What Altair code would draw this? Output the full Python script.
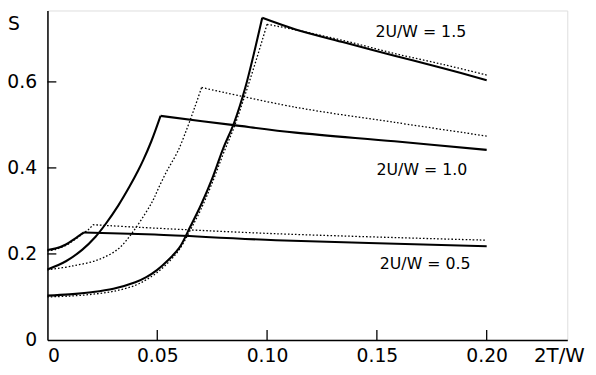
import altair as alt
import pandas as pd

# ---- data ----
u15_solid_x = [0, 0.01, 0.02, 0.03, 0.04, 0.045, 0.05, 0.055, 0.06, 0.065, 0.07, 0.075, 0.08, 0.085, 0.09, 0.0978,
               0.113, 0.1357, 0.158, 0.1806, 0.20]
u15_solid_y = [0.103, 0.106, 0.111, 0.119, 0.134, 0.146, 0.163, 0.186, 0.214, 0.263, 0.315, 0.375, 0.445, 0.505, 0.585, 0.749,
               0.722, 0.691, 0.661, 0.631, 0.604]

u15_dot_x = [0, 0.01, 0.02, 0.03, 0.04, 0.045, 0.05, 0.055, 0.06, 0.065, 0.07, 0.075, 0.08, 0.085, 0.09, 0.095, 0.100,
             0.113, 0.1357, 0.158, 0.1806, 0.20]
u15_dot_y = [0.100, 0.102, 0.106, 0.113, 0.127, 0.140, 0.157, 0.180, 0.210, 0.255, 0.305, 0.365, 0.432, 0.495, 0.570, 0.650, 0.734,
             0.721, 0.695, 0.666, 0.640, 0.616]

u10_solid_x = [0, 0.0084, 0.0159, 0.0219, 0.0264, 0.0323, 0.0373, 0.0413, 0.0436, 0.0473, 0.0515, 0.084, 0.113, 0.158, 0.20]
u10_solid_y = [0.164, 0.183, 0.210, 0.240, 0.269, 0.313, 0.356, 0.394, 0.418, 0.462, 0.521, 0.500, 0.482, 0.462, 0.442]

u10_dot_x = [0, 0.0114, 0.0234, 0.0323, 0.0383, 0.0443, 0.0481, 0.0503, 0.0543, 0.0593, 0.0638, 0.067, 0.0702,
             0.113, 0.158, 0.20]
u10_dot_y = [0.163, 0.172, 0.187, 0.212, 0.247, 0.292, 0.325, 0.350, 0.392, 0.438, 0.495, 0.540, 0.587,
             0.541, 0.506, 0.474]

u05_solid_x = [0, 0.004, 0.0084, 0.0129, 0.0166, 0.0488, 0.104, 0.20]
u05_solid_y = [0.209, 0.213, 0.222, 0.237, 0.250, 0.245, 0.232, 0.218]

u05_dot_x = [0, 0.004, 0.0084, 0.0129, 0.0166, 0.019, 0.0207, 0.0413, 0.104, 0.20]
u05_dot_y = [0.207, 0.211, 0.220, 0.235, 0.249, 0.258, 0.268, 0.262, 0.247, 0.232]

label_text = ["2U/W = 1.5", "2U/W = 1.0", "2U/W = 0.5"]
label_x = [0.170, 0.1705, 0.172]
label_y = [0.717, 0.394, 0.176]

x_ticks = [0, 0.05, 0.10, 0.15, 0.20]
y_ticks = [0, 0.2, 0.4, 0.6]


# ---- tables: each curve split at its peak so the corner stays sharp ----
def series(name, xs, ys):
    k = ys.index(max(ys))
    rise = pd.DataFrame({"x": xs[:k + 1], "y": ys[:k + 1], "part": name + "-rise"})
    fall = pd.DataFrame({"x": xs[k:], "y": ys[k:], "part": name + "-fall"})
    return pd.concat([rise, fall], ignore_index=True)


solid = pd.concat([series("1.5", u15_solid_x, u15_solid_y),
                   series("1.0", u10_solid_x, u10_solid_y),
                   series("0.5", u05_solid_x, u05_solid_y)], ignore_index=True)
dotted = pd.concat([series("1.5", u15_dot_x, u15_dot_y),
                    series("1.0", u10_dot_x, u10_dot_y),
                    series("0.5", u05_dot_x, u05_dot_y)], ignore_index=True)
labels = pd.DataFrame({"x": label_x, "y": label_y, "text": label_text})
xt = pd.DataFrame({"x": x_ticks[1:]})
yt = pd.DataFrame({"y": y_ticks[1:]})

W, H = 527, 334
FONT = "DejaVu Sans"

xs = alt.Scale(domain=[0, 0.2367], nice=False, zero=False)
ys = alt.Scale(domain=[0, 0.766], nice=False, zero=False)

xaxis = alt.Axis(values=x_ticks, title=None, grid=False, ticks=False, domainColor="black", domainWidth=1.5,
                 labelFont=FONT, labelFontSize=19, labelColor="black", labelPadding=7,
                 labelExpr="datum.value == 0 ? '0' : format(datum.value, '.2f')")
yaxis = alt.Axis(values=y_ticks, title=None, grid=False, ticks=False, domainColor="black", domainWidth=1.5,
                 labelFont=FONT, labelFontSize=19, labelColor="black", labelPadding=11,
                 labelExpr="datum.value == 0 ? '0' : format(datum.value, '.1f')")

solid_layer = alt.Chart(solid).mark_line(color="black", strokeWidth=2.1, interpolate="catmull-rom").encode(
    x=alt.X("x:Q", scale=xs, axis=xaxis),
    y=alt.Y("y:Q", scale=ys, axis=yaxis),
    detail="part:N",
)
dotted_layer = alt.Chart(dotted).mark_line(color="black", strokeWidth=1.3, strokeDash=[1.6, 2],
                                           interpolate="catmull-rom").encode(
    x=alt.X("x:Q", scale=xs),
    y=alt.Y("y:Q", scale=ys),
    detail="part:N",
)
xtick_layer = alt.Chart(xt).mark_rule(color="black", strokeWidth=1.3).encode(
    x=alt.X("x:Q", scale=xs), y=alt.value(H), y2=alt.value(H - 10)
)
ytick_layer = alt.Chart(yt).mark_rule(color="black", strokeWidth=1.3).encode(
    y=alt.Y("y:Q", scale=ys), x=alt.value(0), x2=alt.value(9)
)
label_layer = alt.Chart(labels).mark_text(font=FONT, fontSize=16, color="black").encode(
    x=alt.X("x:Q", scale=xs), y=alt.Y("y:Q", scale=ys), text="text:N"
)
s_title = alt.Chart(pd.DataFrame({"t": ["S"]})).mark_text(font=FONT, fontSize=19, color="black").encode(
    x=alt.value(-34), y=alt.value(14), text="t:N"
)
x_title = alt.Chart(pd.DataFrame({"t": ["2T/W"]})).mark_text(font=FONT, fontSize=20, color="black").encode(
    x=alt.value(519), y=alt.value(350), text="t:N"
)

chart = alt.layer(dotted_layer, solid_layer, xtick_layer, ytick_layer, label_layer, s_title, x_title).properties(
    width=W, height=H,
    autosize=alt.AutoSizeParams(type="none"),
    padding={"left": 40, "top": 0, "right": 21, "bottom": 33},
).configure_view(stroke=None).configure(background="white")

chart.save("out.html", embed_options={"renderer": "svg", "actions": False})
